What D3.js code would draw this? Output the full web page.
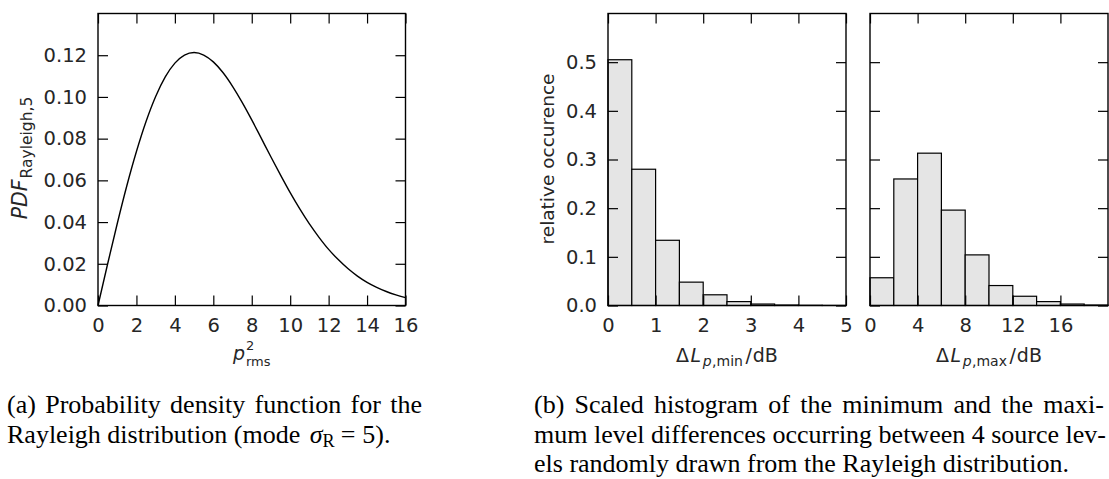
<!DOCTYPE html>
<html><head><meta charset="utf-8">
<script src="https://cdn.jsdelivr.net/npm/d3@7"></script>
<style>body{margin:0;background:#fff} svg{display:block}</style>
</head><body><svg id="c" width="1109" height="479"></svg>
<script>
// ---------- data ----------
const pdfX = [0,0.5,1,1.5,2,2.5,3,3.5,4,4.5,5,5.5,6,6.5,7,7.5,8,8.5,9,9.5,10,10.5,11,11.5,12,12.5,13,13.5,14,14.5,15,15.5,16];
const pdfY = [0,0.0199,0.0392,0.0574,0.0738,0.0882,0.1002,0.1096,0.1162,0.1201,0.1213,0.1201,0.1168,0.1117,0.1051,0.0974,0.0890,0.0801,0.0712,0.0625,0.0541,0.0463,0.0391,0.0327,0.0269,0.0220,0.0177,0.0141,0.0111,0.0087,0.0067,0.0051,0.0038];
const minBinStart = [0,0.5,1,1.5,2,2.5,3,3.5,4,4.5];
const minBinWidth = 0.5;
const minValues = [0.505,0.280,0.134,0.048,0.022,0.008,0.003,0.001,0.0005,0.0002];
const maxBinStart = [0,2,4,6,8,10,12,14,16,18];
const maxBinWidth = 2;
const maxValues = [0.057,0.260,0.313,0.196,0.104,0.041,0.019,0.008,0.003,0.001];
const pdfXTicks = [0,2,4,6,8,10,12,14,16];
const pdfYTicks = [0,0.02,0.04,0.06,0.08,0.10,0.12];
const minXTicks = [0,1,2,3,4,5];
const maxXTicks = [0,4,8,12,16];
const histYTicks = [0,0.1,0.2,0.3,0.4,0.5];
const captionA1 = "(a) Probability density function for the";
const captionB = ["(b) Scaled histogram of the minimum and the maxi-",
                  "mum level differences occurring between 4 source lev-",
                  "els randomly drawn from the Rayleigh distribution."];

// ---------- layout ----------
const svg = d3.select("#c");
const SANS = "'DejaVu Sans', sans-serif", SERIF = "'Liberation Serif', 'Times New Roman', serif";
const TICK = 10, TFS = 19.5, LFS = 19, TXT = "#262626";
const top0 = 13.5, bot0 = 305.5;

const xPdf = d3.scaleLinear().domain([0,16]).range([98,405.5]);
const yPdf = d3.scaleLinear().domain([0,0.14]).range([bot0,top0]);
const xMin = d3.scaleLinear().domain([0,5]).range([608,846]);
const xMax = d3.scaleLinear().domain([0,20]).range([870,1108]);
const yHist = d3.scaleLinear().domain([0,0.6]).range([bot0,top0]);

function styleAxis(g){
  g.select(".domain").remove();
  g.selectAll(".tick line").attr("stroke","#000").attr("stroke-width",1.2);
  g.selectAll(".tick text").attr("fill",TXT).style("font-family",SANS).style("font-size",TFS+"px");
}
function axes(x, y, xt, yt, xfmt, yfmt, showY){
  const [x0,x1] = x.range(), [y0,y1] = y.range();
  svg.append("g").attr("transform",`translate(0,${y0})`)
    .call(d3.axisBottom(x).tickValues(xt).tickSize(-TICK).tickPadding(13).tickFormat(xfmt)).call(styleAxis);
  svg.append("g").attr("transform",`translate(0,${y1})`)
    .call(d3.axisTop(x).tickValues(xt).tickSize(-TICK).tickFormat("")).call(styleAxis);
  svg.append("g").attr("transform",`translate(${x0},0)`)
    .call(d3.axisLeft(y).tickValues(yt).tickSize(-TICK).tickPadding(11).tickFormat(showY ? yfmt : "")).call(styleAxis);
  svg.append("g").attr("transform",`translate(${x1},0)`)
    .call(d3.axisRight(y).tickValues(yt).tickSize(-TICK).tickFormat("")).call(styleAxis);
  svg.append("rect").attr("x",x0).attr("y",y1).attr("width",x1-x0).attr("height",y0-y1)
    .attr("fill","none").attr("stroke","#000").attr("stroke-width",1.4);
}

// ---------- (a) PDF curve ----------
const pdfData = pdfX.map((v,i)=>[v,pdfY[i]]);
svg.append("path").datum(pdfData)
  .attr("d", d3.line().x(d=>xPdf(d[0])).y(d=>yPdf(d[1])).curve(d3.curveMonotoneX))
  .attr("fill","none").attr("stroke","#000").attr("stroke-width",1.4);
axes(xPdf, yPdf, pdfXTicks, pdfYTicks, d3.format("d"), d3.format(".2f"), true);

// ---------- (b) histograms ----------
function bars(x, starts, w, vals){
  svg.append("g").selectAll("rect").data(starts.map((s,i)=>({s, v:vals[i]}))).join("rect")
    .attr("x", d=>x(d.s)).attr("width", d=>x(d.s+w)-x(d.s))
    .attr("y", d=>yHist(d.v)).attr("height", d=>yHist(0)-yHist(d.v))
    .attr("fill","#e5e5e5").attr("stroke","#000").attr("stroke-width",1.2);
}
bars(xMin, minBinStart, minBinWidth, minValues);
bars(xMax, maxBinStart, maxBinWidth, maxValues);
axes(xMin, yHist, minXTicks, histYTicks, d3.format("d"), d3.format(".1f"), true);
axes(xMax, yHist, maxXTicks, histYTicks, d3.format("d"), d3.format(".1f"), false);

// ---------- axis labels ----------
function label(x, y, rot, fs){
  return svg.append("text").attr("transform",`translate(${x},${y})` + (rot?" rotate(-90)":""))
    .attr("text-anchor","middle").attr("fill",TXT)
    .style("font-family",SANS).style("font-size",(fs||LFS)+"px");
}
// PDF_Rayleigh,5
let t = label(27, 158, true, 20.5);
t.append("tspan").style("font-style","italic").text("PDF");
t.append("tspan").style("font-size","15.5px").attr("dx",1).attr("dy",4.5).text("Rayleigh,5");
// p^2_rms (three separate pieces, measured)
{
  const by = 360, sub = 13;
  const p = svg.append("text").attr("y",by).attr("fill",TXT).style("font-family",SANS)
    .style("font-size",LFS+"px").style("font-style","italic").text("p");
  const s2 = svg.append("text").attr("y",by-10).attr("fill",TXT).style("font-family",SANS)
    .style("font-size",sub+"px").text("2");
  const sr = svg.append("text").attr("y",by+5.5).attr("fill",TXT).style("font-family",SANS)
    .style("font-size",sub+"px").text("rms");
  const pw = p.node().getComputedTextLength();
  const w = pw + 1 + Math.max(s2.node().getComputedTextLength(), sr.node().getComputedTextLength());
  const x0 = xPdf(8) - w/2;
  p.attr("x", x0); s2.attr("x", x0+pw+1); sr.attr("x", x0+pw+1);
}
// relative occurence
label(554, 159, true, 18.5).text("relative occurence");
// ΔL_p,min/dB and ΔL_p,max/dB
function dl(cx, word){
  const s = label(cx, 362, false);
  s.append("tspan").text("Δ");
  s.append("tspan").style("font-style","italic").attr("dx",1.5).text("L");
  s.append("tspan").style("font-size","14px").style("font-style","italic").attr("dx",1.5).attr("dy",4).text("p");
  s.append("tspan").style("font-size","14px").attr("dx",0.5).text(","+word);
  s.append("tspan").attr("dx",2.5).attr("dy",-4).text("/");
  s.append("tspan").attr("dx",1).text("dB");
}
dl(727, "min");
dl(989, "max");

// ---------- captions ----------
const CFS = 26;
function justify(str, x0, x1, y){
  const words = str.split(" ");
  const nodes = words.map(w => svg.append("text").attr("y",y).attr("fill","#000")
      .style("font-family",SERIF).style("font-size",CFS+"px").text(w));
  const widths = nodes.map(n => n.node().getComputedTextLength());
  const gap = (x1 - x0 - d3.sum(widths)) / (words.length - 1);
  let x = x0;
  nodes.forEach((n,i)=>{ n.attr("x",x); x += widths[i] + gap; });
}
function plain(x, y){
  return svg.append("text").attr("x",x).attr("y",y).attr("fill","#000")
    .style("font-family",SERIF).style("font-size",CFS+"px");
}
justify(captionA1, 7, 422, 413);
let c = plain(7, 443);
c.append("tspan").text("Rayleigh distribution (mode ");
c.append("tspan").style("font-style","italic").attr("dx",3).text("σ");
c.append("tspan").style("font-size",(CFS*0.7)+"px").attr("dy",4).text("R");
c.append("tspan").attr("dx",6).attr("dy",-4).text("=");
c.append("tspan").attr("dx",7).text("5).");
justify(captionB[0], 534, 1104, 413);
justify(captionB[1], 534, 1106, 443);
plain(534, 472).text(captionB[2]);
</script></body></html>
